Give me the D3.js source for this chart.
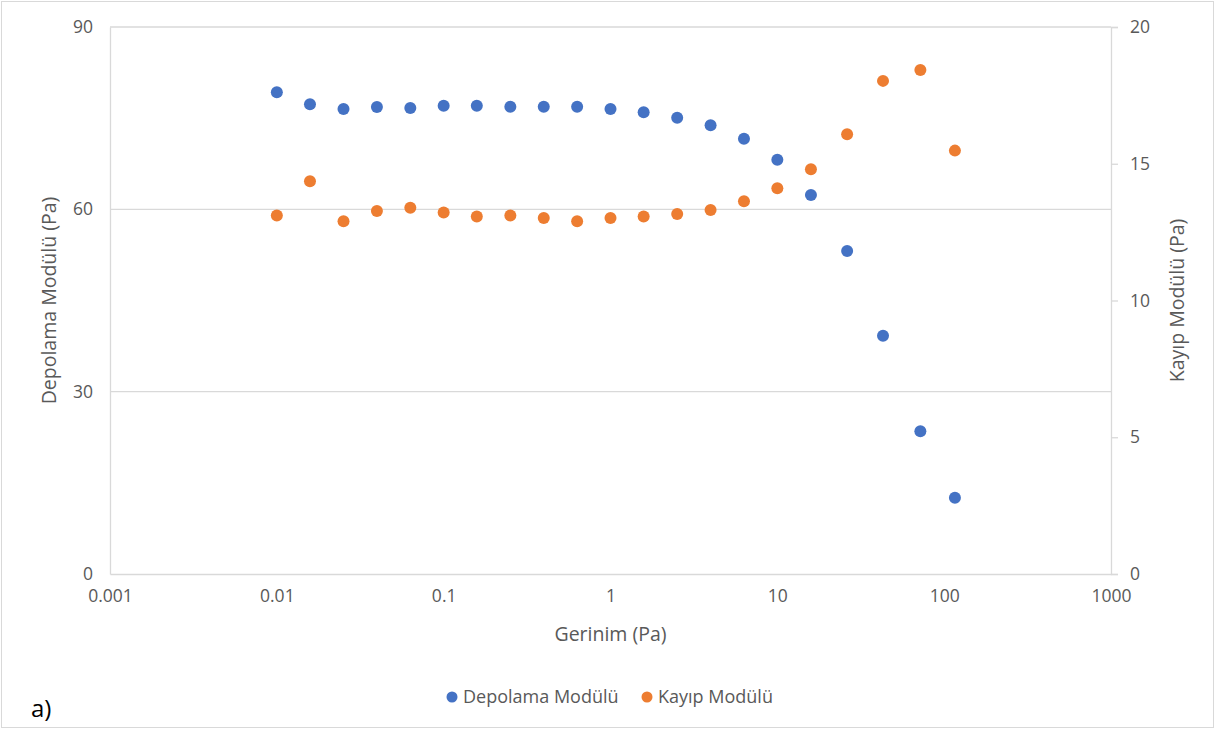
<!DOCTYPE html>
<html>
<head>
<meta charset="utf-8">
<script src="https://cdn.jsdelivr.net/npm/d3@7"></script>
<style>
  body { margin: 0; background: #fff; }
  text { font-family: "Open Sans", "Noto Sans", sans-serif; }
</style>
</head>
<body>
<div id="chart"></div>
<script>
// strain sweep: storage modulus (left axis) and loss modulus (right axis)
const strain = [0.01, 0.0158, 0.0251, 0.0398, 0.0631, 0.1, 0.158, 0.251, 0.398, 0.631,
  1, 1.58, 2.51, 3.98, 6.31, 10, 15.9, 26.2, 43, 72, 116];
const storage = [79.25, 77.28, 76.5, 76.84, 76.67, 77.05, 77.05, 76.88, 76.88, 76.88,
  76.5, 75.96, 75.07, 73.82, 71.62, 68.17, 62.36, 53.14, 39.2, 23.47, 12.56];
const loss = [13.11, 14.36, 12.9, 13.27, 13.39, 13.22, 13.07, 13.11, 13.02, 12.9,
  13.02, 13.07, 13.16, 13.31, 13.63, 14.1, 14.8, 16.08, 18.03, 18.43, 15.48];
const xTicks = [0.001, 0.01, 0.1, 1, 10, 100, 1000];
const leftTicks = [0, 30, 60, 90];
const rightTicks = [0, 5, 10, 15, 20];
const seriesNames = ["Depolama Modülü", "Kayıp Modülü"];
const colors = ["#4472C4", "#ED7D31"];

const width = 1215, height = 729;
const margin = { top: 27, right: 104, bottom: 155, left: 110 };

const svg = d3.select('#chart')
  .append('svg')
  .attr('width', width)
  .attr('height', height);

// chart border
svg.append('rect')
  .attr('x', 1.5).attr('y', 1.5)
  .attr('width', width - 3).attr('height', height - 3)
  .attr('fill', '#fff')
  .attr('stroke', '#d9d9d9');

const x = d3.scaleLog()
  .domain([0.001, 1000])
  .range([margin.left, width - margin.right]);

const yL = d3.scaleLinear()
  .domain([0, 90])
  .range([height - margin.bottom, margin.top]);

const yR = d3.scaleLinear()
  .domain([0, 20])
  .range([height - margin.bottom, margin.top]);

// gridlines
svg.append('g')
  .selectAll('line')
  .data(leftTicks.filter(d => d > 0))
  .join('line')
  .attr('x1', margin.left).attr('x2', width - margin.right)
  .attr('y1', d => yL(d)).attr('y2', d => yL(d))
  .attr('stroke', '#d9d9d9').attr('stroke-width', 1.3);

// x axis
const xAxis = svg.append('g')
  .attr('transform', `translate(0,${height - margin.bottom})`)
  .call(d3.axisBottom(x).tickValues(xTicks).tickSize(0).tickPadding(22)
    .tickFormat(d => String(d)));

// left axis
const leftAxis = svg.append('g')
  .attr('transform', `translate(${margin.left},0)`)
  .call(d3.axisLeft(yL).tickValues(leftTicks).tickSize(0).tickPadding(17));

// right axis
const rightAxis = svg.append('g')
  .attr('transform', `translate(${width - margin.right},0)`)
  .call(d3.axisRight(yR).tickValues(rightTicks).tickSize(7).tickPadding(12));

[xAxis, leftAxis, rightAxis].forEach(g => {
  g.select('.domain').attr('stroke', '#d9d9d9').attr('stroke-width', 1.3);
  g.selectAll('.tick line').attr('stroke', '#d9d9d9').attr('stroke-width', 1.3);
  g.selectAll('.tick text').attr('fill', '#595959').attr('font-size', 17.5)
    .attr('font-family', '"Open Sans", "Noto Sans", sans-serif');
});
xAxis.selectAll('.tick text').attr('dy', '0.35em');

// axis titles
svg.append('text')
  .attr('x', x(1)).attr('y', 641)
  .attr('text-anchor', 'middle')
  .attr('fill', '#595959').attr('font-size', 19.5)
  .text('Gerinim (Pa)');

svg.append('text')
  .attr('transform', `translate(56,${(yL(0) + yL(90)) / 2}) rotate(-90)`)
  .attr('text-anchor', 'middle')
  .attr('fill', '#595959').attr('font-size', 19.5)
  .text('Depolama Modülü (Pa)');

svg.append('text')
  .attr('transform', `translate(1184,${(yL(0) + yL(90)) / 2}) rotate(-90)`)
  .attr('text-anchor', 'middle')
  .attr('fill', '#595959').attr('font-size', 19.5)
  .text('Kayıp Modülü (Pa)');

// points
svg.append('g')
  .selectAll('circle')
  .data(strain.map((s, i) => ({ s, v: storage[i] })))
  .join('circle')
  .attr('cx', d => x(d.s))
  .attr('cy', d => yL(d.v))
  .attr('r', 6)
  .attr('fill', colors[0]);

svg.append('g')
  .selectAll('circle')
  .data(strain.map((s, i) => ({ s, v: loss[i] })))
  .join('circle')
  .attr('cx', d => x(d.s))
  .attr('cy', d => yR(d.v))
  .attr('r', 6)
  .attr('fill', colors[1]);

// legend
const legendX = [452, 647];
const legend = svg.append('g')
  .selectAll('g')
  .data(seriesNames)
  .join('g')
  .attr('transform', (d, i) => `translate(${legendX[i]},697)`);

legend.append('circle')
  .attr('r', 5.5)
  .attr('fill', (d, i) => colors[i]);

legend.append('text')
  .attr('x', 11).attr('dy', '0.35em')
  .attr('fill', '#595959').attr('font-size', 18)
  .text(d => d);

// panel label
svg.append('text')
  .attr('x', 31).attr('y', 717)
  .attr('fill', '#000').attr('font-size', 24)
  .text('a)');
</script>
</body>
</html>
